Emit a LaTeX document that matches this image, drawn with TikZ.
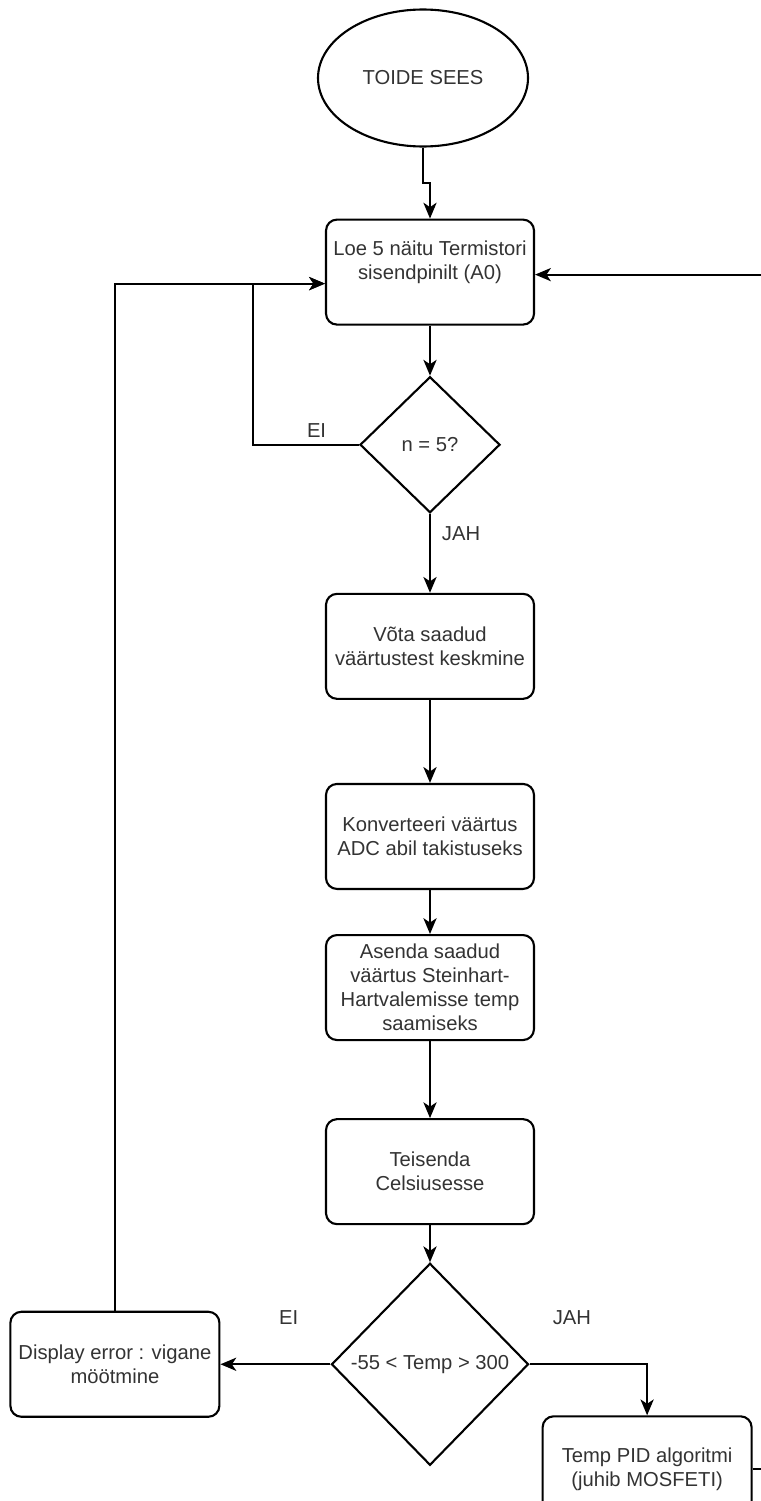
\documentclass[tikz,border=0pt]{standalone}
\usepackage{fontspec}
\setmainfont{Liberation Sans}
\usetikzlibrary{positioning,shapes.geometric,arrows.meta}
\begin{document}
\begin{tikzpicture}[node distance = 1cm, auto,
	font=\fontsize{11.5}{13.7}\selectfont,
	every node/.style={text=black!80},
	box/.style={rectangle, draw, fill=white, line width=1.2pt, rounded corners=0.22cm,
		minimum width=4.16cm, minimum height=2.1cm, align=center, inner sep=1pt},
	decision/.style={diamond, draw, fill=white, line width=1.2pt, aspect=1, inner sep=0pt, align=center},
	line/.style={draw, line width=1.2pt, -{Stealth[length=9pt,width=7.5pt,inset=2.5pt]}}]
	\useasboundingbox (0,0) rectangle (15.22,-30.02);
	% Place nodes
	\node [ellipse, draw, line width=1.2pt, minimum width=4.2cm, minimum height=2.74cm] (start) at (8.46,-1.56) {TOIDE SEES};
	\node [box, below=1.42cm of start, xshift=0.14cm] (read) {Loe 5 näitu Termistori\\ sisendpinilt (A0)\\ \mbox{}};
	\node [decision, below=1cm of read, minimum width=2.8cm, minimum height=2.72cm] (check) {n = 5?};
	\node [box, below=1.58cm of check] (avg) {Võta saadud\\ väärtustest keskmine};
	\node [box, below=1.66cm of avg] (conv) {Konverteeri väärtus\\ ADC abil takistuseks};
	\node [box, below=0.88cm of conv] (calc) {Asenda saadud\\ väärtus Steinhart-\\ Hartvalemisse temp\\ saamiseks};
	\node [box, below=1.54cm of calc] (cels) {Teisenda\\ Celsiusesse};
	\node [decision, below=0.74cm of cels, minimum width=3.94cm, minimum height=4.04cm] (range) {-55 < Temp > 300};
	\node [box, left=2.2cm of range, minimum width=4.18cm] (err) {Display error : vigane\\ möötmine};
	\node [box, below right=1.02cm and 0.24cm of range.east, minimum width=4.18cm] (pid) {Temp PID algoritmi\\ (juhib MOSFETI)};
	% Draw edges
	\path [line] (start.south) -- ++(0,-0.7) -| (read.north);
	\path [line] (read) -- (check);
	\path [line] (check) -- node[right, pos=0.25, xshift=0.1cm] {JAH} (avg);
	\path [line] (check.west) -- node[above, pos=0.4] {EI} ++(-2.12,0) |- ([yshift=-0.23cm]read.west);
	\path [line] (avg) -- (conv);
	\path [line] (conv) -- (calc);
	\path [line] (calc) -- (cels);
	\path [line] (cels) -- (range);
	\path [line] (range.west) -- node[above=0.65cm, pos=0.38] {EI} (err.east);
	\path [line] (range.east) -| node[above=0.65cm, pos=0.18] {JAH} (pid.north);
	\path [line] (err.north) |- ([yshift=-0.23cm]read.west);
	\path [line] (pid.east) -- ++(0.22,0) |- ([yshift=-0.05cm]read.east);
\end{tikzpicture}
\end{document}
